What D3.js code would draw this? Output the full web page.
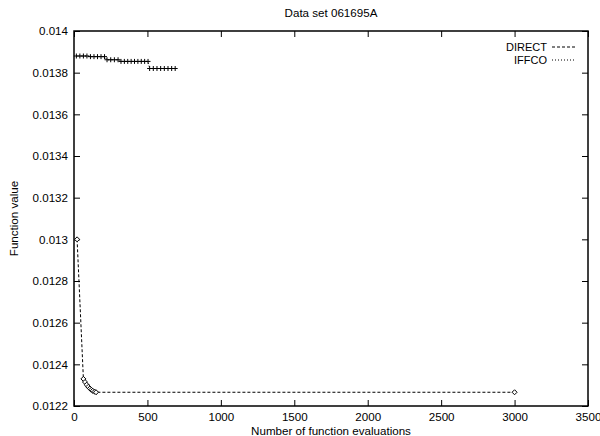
<!DOCTYPE html>
<html>
<head>
<meta charset="utf-8">
<script src="https://cdn.jsdelivr.net/npm/d3@7"></script>
<style>
  body { margin: 0; background: #fff; }
  text { font-family: "Liberation Sans", Arial, sans-serif; font-size: 11.6px; fill: #000; }
</style>
</head>
<body>
<svg id="chart" width="600" height="436"></svg>
<script>
// Data
const directEvals = [21, 64, 75, 86, 97, 108, 118, 128, 140, 150, 3000];
const directValues = [0.01300, 0.012330, 0.012315, 0.012302, 0.012292, 0.012284, 0.012278, 0.012273, 0.012269, 0.012266, 0.012266];

const iffcoEvals = [16, 40, 64, 88, 112, 136, 160, 184, 208, 225, 250, 275, 300, 320, 343, 366, 389, 412, 435, 458, 481, 504, 515, 540, 565, 590, 615, 640, 665, 689];
const iffcoValues = [0.01388, 0.01388, 0.01388, 0.01388, 0.013877, 0.013877, 0.013877, 0.013877, 0.013877,
  0.013862, 0.013862, 0.013862, 0.013862,
  0.013854, 0.013854, 0.013854, 0.013854, 0.013854, 0.013854, 0.013854, 0.013854, 0.013854,
  0.013820, 0.013820, 0.013820, 0.013820, 0.013820, 0.013820, 0.013820, 0.013820];

const xTicks = [0, 500, 1000, 1500, 2000, 2500, 3000, 3500];
const yTicks = [0.0122, 0.0124, 0.0126, 0.0128, 0.013, 0.0132, 0.0134, 0.0136, 0.0138, 0.014];

// Layout
const svg = d3.select("#chart");
const margin = { left: 74, right: 12, top: 31, bottom: 30 };
const width = 600, height = 436;
const x = d3.scaleLinear().domain([0, 3500]).range([margin.left, width - margin.right]);
const y = d3.scaleLinear().domain([0.0122, 0.014]).range([height - margin.bottom, margin.top]);

const tickLen = 6;
const fontCss = "'Liberation Sans', Arial, sans-serif";

// Axes (ticks inward, mirrored)
svg.append("g")
  .attr("transform", `translate(0,${y.range()[0]})`)
  .call(d3.axisBottom(x).tickValues(xTicks).tickSize(-tickLen).tickPadding(7).tickFormat(d3.format("d")))
  .call(g => g.select(".domain").remove());
svg.append("g")
  .attr("transform", `translate(0,${y.range()[1]})`)
  .call(d3.axisTop(x).tickValues(xTicks).tickSize(-tickLen).tickFormat(""))
  .call(g => g.select(".domain").remove());
svg.append("g")
  .attr("transform", `translate(${x.range()[0]},0)`)
  .call(d3.axisLeft(y).tickValues(yTicks).tickSize(-tickLen).tickPadding(6).tickFormat(d => String(+d.toFixed(4))))
  .call(g => g.select(".domain").remove());
svg.append("g")
  .attr("transform", `translate(${x.range()[1]},0)`)
  .call(d3.axisRight(y).tickValues(yTicks).tickSize(-tickLen).tickFormat(""))
  .call(g => g.select(".domain").remove());

svg.selectAll(".tick text").style("font-family", fontCss).style("font-size", "11.6px");

// Frame
svg.append("rect")
  .attr("x", x.range()[0]).attr("y", y.range()[1])
  .attr("width", x.range()[1] - x.range()[0])
  .attr("height", y.range()[0] - y.range()[1])
  .attr("fill", "none").attr("stroke", "#000").attr("stroke-width", 1.5);

// Labels
svg.append("text").attr("x", (x.range()[0] + x.range()[1]) / 2).attr("y", 17)
  .attr("text-anchor", "middle").text("Data set 061695A");
svg.append("text").attr("x", (x.range()[0] + x.range()[1]) / 2).attr("y", 435)
  .attr("text-anchor", "middle").text("Number of function evaluations");
svg.append("text").attr("transform", `translate(18,${(y.range()[0] + y.range()[1]) / 2}) rotate(-90)`)
  .attr("text-anchor", "middle").text("Function value");

// Series
const line = d3.line().x(d => x(d[0])).y(d => y(d[1]));
const direct = directEvals.map((e, i) => [e, directValues[i]]);
const iffco = iffcoEvals.map((e, i) => [e, iffcoValues[i]]);

svg.append("path").datum(direct).attr("d", line)
  .attr("fill", "none").attr("stroke", "#000").attr("stroke-width", 1).attr("stroke-dasharray", "3,2");
svg.append("path").datum(iffco).attr("d", line)
  .attr("fill", "none").attr("stroke", "#000").attr("stroke-width", 1).attr("stroke-dasharray", "1,2");

svg.append("g").selectAll("path").data(direct).join("path")
  .attr("d", d3.symbol(d3.symbolDiamond2, 16))
  .attr("transform", d => `translate(${x(d[0])},${y(d[1])})`)
  .attr("fill", "#fff").attr("stroke", "#000").attr("stroke-width", 1);

svg.append("g").selectAll("path").data(iffco).join("path")
  .attr("d", () => { const s = 2.5; return `M${-s},0H${s}M0,${-s}V${s}`; })
  .attr("transform", d => `translate(${x(d[0])},${y(d[1])})`)
  .attr("fill", "none").attr("stroke", "#000").attr("stroke-width", 1);

// Legend
const legend = [
  { name: "DIRECT", dash: "3,2" },
  { name: "IFFCO", dash: "1,2" }
];
const lg = svg.append("g");
legend.forEach((l, i) => {
  const ly = 47 + i * 13;
  lg.append("text").attr("x", 547).attr("y", ly + 4).attr("text-anchor", "end")
    .style("font-size", "11px").text(l.name);
  lg.append("line").attr("x1", 552).attr("x2", 576).attr("y1", ly).attr("y2", ly)
    .attr("stroke", "#000").attr("stroke-width", 1).attr("stroke-dasharray", l.dash);
});
</script>
</body>
</html>
